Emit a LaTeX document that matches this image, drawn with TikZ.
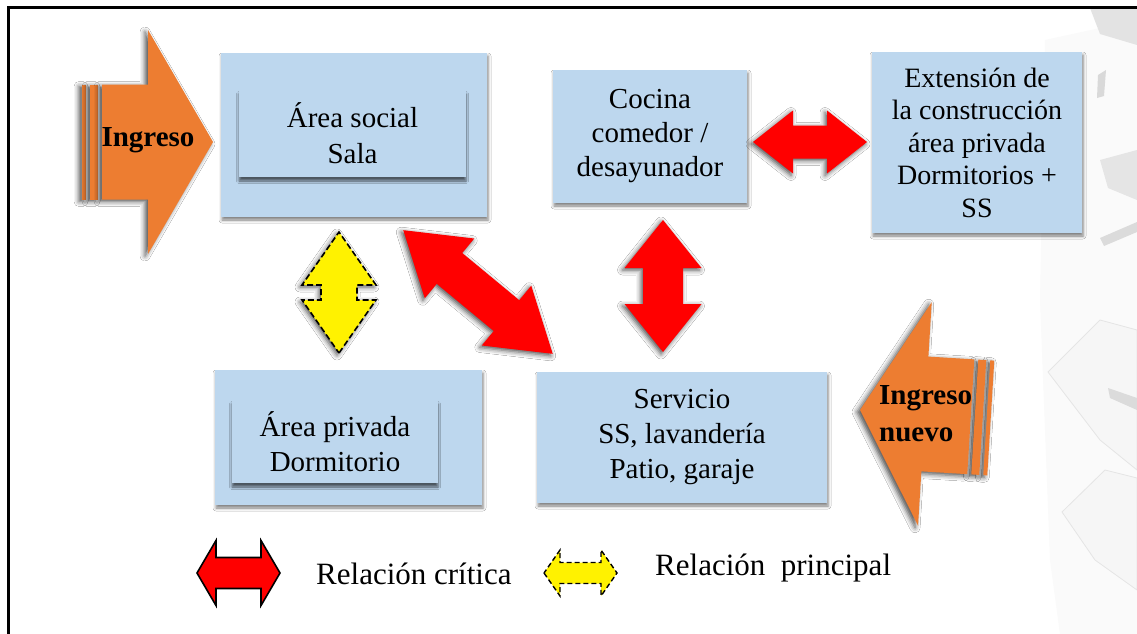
\documentclass[tikz,border=0pt]{standalone}
\usepackage{fontspec}
\setmainfont{Liberation Serif}
\usetikzlibrary{shadows.blur}
\definecolor{boxblue}{RGB}{189,215,238}
\definecolor{ingorange}{RGB}{237,125,49}
\tikzset{
  boxstyle/.style={fill=boxblue, inner sep=0pt, align=center,
    font=\fontsize{29}{34}\selectfont,
    blur shadow={shadow xshift=1pt, shadow yshift=-3pt, shadow blur radius=3pt, shadow opacity=50}},
  innerbox/.style={fill=boxblue, inner sep=0pt, align=center,
    font=\fontsize{29}{36}\selectfont,
    blur shadow={shadow xshift=0pt, shadow yshift=-4pt, shadow blur radius=2.5pt, shadow opacity=60}},
  redarr/.style={fill=red,
    blur shadow={shadow xshift=-2pt, shadow yshift=-2pt, shadow blur radius=5pt, shadow opacity=70}},
  yelarr/.style={fill=yellow, draw=black, line width=1.6pt, dash pattern=on 6pt off 3pt,
    blur shadow={shadow xshift=-2pt, shadow yshift=-2pt, shadow blur radius=5pt, shadow opacity=70}},
  legred/.style={fill=red, draw=black, line width=1.6pt},
  legyel/.style={fill=yellow, draw=black, line width=1.4pt, dash pattern=on 5pt off 3pt},
  ingfill/.style={fill=ingorange,
    blur shadow={shadow xshift=-3pt, shadow yshift=-2pt, shadow blur radius=5pt, shadow opacity=70}},
  ingtext/.style={font=\bfseries\fontsize{29}{37}\selectfont, inner sep=0pt, align=left},
  legtext/.style={font=\fontsize{31}{34}\selectfont, inner sep=0pt, anchor=west},
  papershape/.style={fill=gray!7, draw=gray!20, line width=0.8pt}
}
% double arrow: #1 style, #2 centre, #3 angle, #4 half length, #5 head length, #6 head half width, #7 shaft half width
\newcommand\dblarr[7]{%
  \begin{scope}[shift={#2},rotate=#3]
    \path[#1] (-#4,0) -- (-#4+#5,#6) -- (-#4+#5,#7) -- (#4-#5,#7) -- (#4-#5,#6) -- (#4,0)
      -- (#4-#5,-#6) -- (#4-#5,-#7) -- (-#4+#5,-#7) -- (-#4+#5,-#6) -- cycle;
  \end{scope}}
% entrance arrow: #1 tip, #2 angle
\newcommand\ingarr[2]{%
  \begin{scope}[shift={#1},rotate=#2]
    \path[ingfill] (-131,-57.5) rectangle (-127,57.5);
    \path[ingfill] (-123,-57.5) rectangle (-115,57.5);
    \path[ingfill] (0,0) -- (-65,-112) -- (-65,-57.5) -- (-111,-57.5) -- (-111,57.5)
      -- (-65,57.5) -- (-65,112) -- cycle;
  \end{scope}}
\begin{document}
\begin{tikzpicture}[x=1pt,y=-1pt]
\useasboundingbox (0,0) rectangle (1137,634);
\fill[white] (0,0) rectangle (1137,634);
% decorative paper pieces (right edge)
\path[fill=gray!4] (1045,40) -- (1137,20) -- (1137,634) -- (1060,634) -- (1050,560) -- (1040,300) -- cycle;
\path[fill=gray!22] (1090,8) -- (1137,8) -- (1137,45) -- (1100,34) -- cycle;
\path[fill=gray!30] (1098,75) -- (1106,70) -- (1104,96) -- (1097,98) -- cycle;
\path[fill=gray!20] (1100,160) -- (1137,150) -- (1137,200) -- (1108,188) -- cycle;
\path[fill=gray!28] (1100,238) -- (1137,222) -- (1137,232) -- (1104,246) -- cycle;
\path[papershape] (1048,372) -- (1100,320) -- (1137,330) -- (1137,470) -- (1100,440) -- cycle;
\path[papershape] (1062,512) -- (1105,470) -- (1137,478) -- (1137,590) -- (1095,560) -- cycle;
\path[fill=gray!28] (1108,388) -- (1137,398) -- (1137,410) -- (1110,398) -- cycle;
% frame
\draw[line width=3pt] (8.5,634) -- (8.5,7.5) -- (1137,7.5);
% boxes
\node[boxstyle, minimum width=266pt, minimum height=164pt] (social) at (354,135) {};
\node[innerbox, minimum width=227pt, minimum height=87pt] (socialin) at (352.5,133.5) {Área social\\ Sala};
\node[boxstyle, minimum width=194pt, minimum height=133pt] (cocina) at (650,136.5) {Cocina\\comedor /\\desayunador};
\node[boxstyle, minimum width=210pt, minimum height=181pt, font=\fontsize{28}{32.5}\selectfont] (ext) at (977,142.5)
  {Extensión de\\la construcción\\área privada\\Dormitorios +\\SS};
\node[boxstyle, minimum width=267pt, minimum height=135pt] (privada) at (348.5,437.5) {};
\node[innerbox, minimum width=206pt, minimum height=83pt, font=\fontsize{29}{35}\selectfont] (privadain) at (335,441.5) {Área privada\\Dormitorio};
\node[boxstyle, minimum width=290pt, minimum height=131pt, font=\fontsize{29}{35}\selectfont] (servicio) at (682,437.5)
  {Servicio\\SS, lavandería\\Patio, garaje};
% relation arrows
\dblarr{redarr}{(810,142)}{0}{57}{40}{31.5}{16.5}
\dblarr{redarr}{(663,286)}{90}{66}{48}{38.5}{20}
\dblarr{redarr}{(478,292)}{-39.6}{97}{60}{38.8}{20}
\dblarr{yelarr}{(339,292.5)}{90}{60.5}{53}{37}{18}
% entrance arrows
\ingarr{(213,142)}{0}
\node[ingtext] (ingreso) at (148,140) {Ingreso};
\ingarr{(860,410)}{176.5}
\node[ingtext, anchor=west] (ingresonuevo) at (879,414) {Ingreso\\nuevo};
% legend
\dblarr{legred}{(238.5,573)}{0}{41.5}{19}{32.5}{15.5}
\node[legtext] (lcrit) at (316,574) {Relación crítica};
\dblarr{legyel}{(580.5,573)}{0}{36.5}{16}{23}{10.5}
\node[legtext] (lprin) at (655,568) {Relación\ \ principal};
\end{tikzpicture}
\end{document}
